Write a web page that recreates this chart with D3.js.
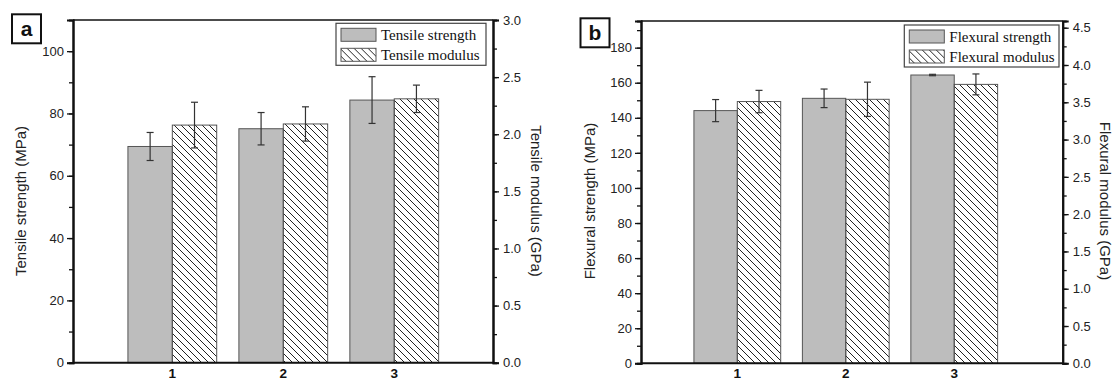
<!DOCTYPE html>
<html>
<head>
<meta charset="utf-8">
<script src="https://cdn.jsdelivr.net/npm/d3@7"></script>
<style>
  body { margin: 0; background: #fff; }
  svg { display: block; font-family: "Liberation Sans", Arial, sans-serif; }
</style>
</head>
<body>
<script>
// sample groups
var groups = [1, 2, 3];

// panel a: tensile
var tensileStrength    = [69.4, 75.1, 84.3];
var tensileStrengthErr = [4.5, 5.2, 7.5];
var tensileModulus     = [2.08, 2.09, 2.31];
var tensileModulusErr  = [0.20, 0.15, 0.12];

// panel b: flexural
var flexuralStrength    = [144.1, 151.1, 164.4];
var flexuralStrengthErr = [6.3, 5.3, 0.4];
var flexuralModulus     = [3.51, 3.54, 3.74];
var flexuralModulusErr  = [0.15, 0.23, 0.14];

// tick values
var leftTicksA  = [0, 20, 40, 60, 80, 100];
var rightTicksA = [0, 0.5, 1.0, 1.5, 2.0, 2.5, 3.0];
var leftTicksB  = [0, 20, 40, 60, 80, 100, 120, 140, 160, 180];
var rightTicksB = [0, 0.5, 1.0, 1.5, 2.0, 2.5, 3.0, 3.5, 4.0, 4.5];

var svg = d3.select("body").append("svg")
    .attr("width", 1115)
    .attr("height", 381);

// hatch pattern for modulus bars
svg.append("defs").append("pattern")
    .attr("id", "hatch")
    .attr("patternUnits", "userSpaceOnUse")
    .attr("width", 7)
    .attr("height", 7)
  .append("path")
    .attr("d", "M0,0L7,7M-1,6L1,8M6,-1L8,1")
    .attr("stroke", "#222")
    .attr("stroke-width", 1);

function drawPanel(p) {
  var x = d3.scaleLinear().domain(p.xDomain).range([p.left, p.right]);
  var yL = d3.scaleLinear().domain(p.yLDomain).range([p.bottom, p.top]);
  var yR = d3.scaleLinear().domain(p.yRDomain).range([p.bottom, p.top]);
  var bw = 0.4; // bar width in x units

  var g = svg.append("g");

  // strength bars (grey, left axis)
  g.selectAll(".sbar").data(groups).enter().append("rect")
      .attr("x", function(d) { return x(d - bw); })
      .attr("y", function(d, i) { return yL(p.strength[i]); })
      .attr("width", function(d) { return x(d) - x(d - bw); })
      .attr("height", function(d, i) { return yL(0) - yL(p.strength[i]); })
      .attr("fill", "#bdbdbd")
      .attr("stroke", "#555")
      .attr("stroke-width", 1);

  // modulus bars (hatched, right axis)
  g.selectAll(".mbar").data(groups).enter().append("rect")
      .attr("x", function(d) { return x(d); })
      .attr("y", function(d, i) { return yR(p.modulus[i]); })
      .attr("width", function(d) { return x(d + bw) - x(d); })
      .attr("height", function(d, i) { return yR(0) - yR(p.modulus[i]); })
      .attr("fill", "url(#hatch)")
      .attr("stroke", "#555")
      .attr("stroke-width", 1);

  // error bars
  function errBars(cls, xc, vals, errs, y) {
    var eb = g.selectAll("." + cls).data(groups).enter().append("g")
        .attr("stroke", "#333").attr("stroke-width", 1.2);
    eb.append("line")
        .attr("x1", function(d) { return xc(d); }).attr("x2", function(d) { return xc(d); })
        .attr("y1", function(d, i) { return y(vals[i] + errs[i]); })
        .attr("y2", function(d, i) { return y(vals[i] - errs[i]); });
    [1, -1].forEach(function(s) {
      eb.append("line")
          .attr("x1", function(d) { return xc(d) - 3.5; }).attr("x2", function(d) { return xc(d) + 3.5; })
          .attr("y1", function(d, i) { return y(vals[i] + s * errs[i]); })
          .attr("y2", function(d, i) { return y(vals[i] + s * errs[i]); });
    });
  }
  errBars("es", function(d) { return x(d - bw / 2); }, p.strength, p.strengthErr, yL);
  errBars("em", function(d) { return x(d + bw / 2); }, p.modulus, p.modulusErr, yR);

  // frame top line
  g.append("line")
      .attr("x1", p.left).attr("x2", p.right)
      .attr("y1", p.top).attr("y2", p.top)
      .attr("stroke", "#111").attr("stroke-width", 1.6);

  // left axis
  var leftMinor = d3.range(p.yLDomain[0], p.yLDomain[1], p.leftMinorStep);
  var la = g.append("g").attr("transform", "translate(" + p.left + ",0)")
      .call(d3.axisLeft(yL).tickValues(leftMinor).tickSize(4).tickFormat(""));
  g.append("g").attr("transform", "translate(" + p.left + ",0)")
      .call(d3.axisLeft(yL).tickValues(p.leftTicks).tickSize(6).tickPadding(3).tickFormat(d3.format("d")))
      .call(styleAxis);
  la.call(styleAxis);

  // right axis
  var rightMinor = d3.range(p.yRDomain[0], p.yRDomain[1], p.rightMinorStep);
  var ra = g.append("g").attr("transform", "translate(" + p.right + ",0)")
      .call(d3.axisRight(yR).tickValues(rightMinor).tickSize(4).tickFormat(""));
  g.append("g").attr("transform", "translate(" + p.right + ",0)")
      .call(d3.axisRight(yR).tickValues(p.rightTicks).tickSize(6).tickPadding(4).tickFormat(d3.format(".1f")))
      .call(styleAxis);
  ra.call(styleAxis);

  // bottom axis
  g.append("line")
      .attr("x1", p.left).attr("x2", p.right)
      .attr("y1", p.bottom).attr("y2", p.bottom)
      .attr("stroke", "#111").attr("stroke-width", 2);
  g.selectAll(".xl").data(groups).enter().append("text")
      .attr("x", function(d) { return x(d); })
      .attr("y", 377.5)
      .attr("text-anchor", "middle")
      .attr("font-weight", "bold")
      .attr("font-size", 13.5)
      .attr("fill", "#111")
      .text(function(d) { return d; });

  // axis titles
  g.append("text")
      .attr("transform", "translate(" + p.leftTitleX + "," + p.titleY + ") rotate(-90)")
      .attr("text-anchor", "middle")
      .attr("font-size", 15)
      .attr("fill", "#222")
      .text(p.leftTitle);
  g.append("text")
      .attr("transform", "translate(" + p.rightTitleX + "," + p.titleY + ") rotate(90)")
      .attr("text-anchor", "middle")
      .attr("font-size", 15)
      .attr("fill", "#222")
      .text(p.rightTitle);

  // legend
  var lg = g.append("g").attr("transform", "translate(" + p.legend[0] + "," + p.legend[1] + ")");
  lg.append("rect")
      .attr("width", p.legend[2]).attr("height", 42)
      .attr("fill", "#fff").attr("stroke", "#444").attr("stroke-width", 1.2);
  [["#bdbdbd", p.legendNames[0]], ["url(#hatch)", p.legendNames[1]]].forEach(function(it, i) {
    lg.append("rect")
        .attr("x", 5).attr("y", 5 + i * 20)
        .attr("width", 35).attr("height", 13)
        .attr("fill", it[0]).attr("stroke", "#555").attr("stroke-width", 1);
    lg.append("text")
        .attr("x", 45).attr("y", 17 + i * 20)
        .attr("font-family", "'Liberation Serif', 'Times New Roman', serif")
        .attr("font-size", 15)
        .attr("fill", "#111")
        .text(it[1]);
  });

  // panel letter
  var pl = g.append("g").attr("transform", "translate(" + p.letterBox[0] + "," + p.letterBox[1] + ")");
  pl.append("rect")
      .attr("width", 29).attr("height", 29)
      .attr("fill", "#fff").attr("stroke", "#111").attr("stroke-width", 2);
  pl.append("text")
      .attr("x", 14.5).attr("y", 22)
      .attr("text-anchor", "middle")
      .attr("font-weight", "bold")
      .attr("font-size", 21)
      .attr("fill", "#111")
      .text(p.letter);
}

function styleAxis(sel) {
  sel.select(".domain").attr("stroke", "#111").attr("stroke-width", 2);
  sel.selectAll(".tick line").attr("stroke", "#111").attr("stroke-width", 1.3);
  sel.selectAll(".tick text").attr("font-size", 13).attr("fill", "#222")
     .attr("font-family", "'Liberation Sans', Arial, sans-serif");
}

drawPanel({
  left: 73, right: 493, top: 20, bottom: 362.7,
  xDomain: [0.105, 3.89], yLDomain: [0, 110], yRDomain: [0, 3.0],
  leftTicks: leftTicksA, rightTicks: rightTicksA, leftMinorStep: 10, rightMinorStep: 0.25,
  strength: tensileStrength, strengthErr: tensileStrengthErr,
  modulus: tensileModulus, modulusErr: tensileModulusErr,
  leftTitle: "Tensile strength (MPa)", rightTitle: "Tensile modulus (GPa)",
  leftTitleX: 26, rightTitleX: 531, titleY: 201,
  legendNames: ["Tensile strength", "Tensile modulus"],
  legend: [336, 23.3, 150],
  letter: "a", letterBox: [12, 14.3]
});

drawPanel({
  left: 641, right: 1062.7, top: 21, bottom: 363.3,
  xDomain: [0.112, 4.0], yLDomain: [0, 195.2], yRDomain: [0, 4.59],
  leftTicks: leftTicksB, rightTicks: rightTicksB, leftMinorStep: 10, rightMinorStep: 0.25,
  strength: flexuralStrength, strengthErr: flexuralStrengthErr,
  modulus: flexuralModulus, modulusErr: flexuralModulusErr,
  leftTitle: "Flexural strength (MPa)", rightTitle: "Flexural modulus (GPa)",
  leftTitleX: 595, rightTitleX: 1100, titleY: 201,
  legendNames: ["Flexural strength", "Flexural modulus"],
  legend: [904.3, 25, 154.7],
  letter: "b", letterBox: [580.5, 18.3]
});
</script>
</body>
</html>
